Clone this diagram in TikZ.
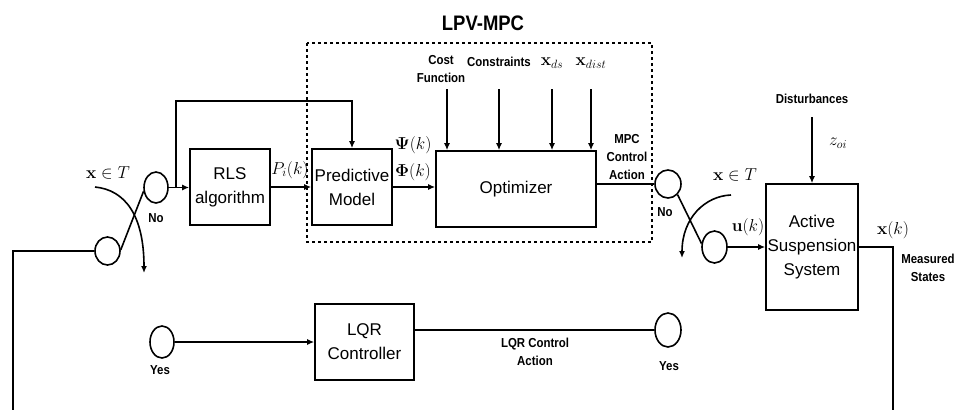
\documentclass[tikz,border=0pt]{standalone}
\usepackage[no-math]{fontspec}
\setmainfont{Liberation Sans}
\newfontfamily\condbold[FakeStretch=0.88]{Liberation Sans Bold}
\usetikzlibrary{shapes.geometric,arrows.meta,calc}
\tikzset{
  blk/.style={draw, align=center, inner sep=0pt, font=\fontsize{17}{24}\selectfont},
  sw/.style={draw, ellipse, inner sep=0pt},
  lbl/.style={align=center, inner sep=0pt, font=\condbold\fontsize{13}{18}\selectfont},
  mth/.style={inner sep=0pt, font=\fontsize{18}{21}\selectfont},
  arr/.style={-{Latex[length=7pt,width=6pt]}},
}
\begin{document}
\begin{tikzpicture}[x=1pt,y=-1pt,line width=1.6pt]
\useasboundingbox (0,0) rectangle (960,410);

% LPV-MPC frame and title
\draw[line width=1.3pt, dash pattern=on 3pt off 3pt] (307,43) rectangle (652,242);
\node[inner sep=0pt, font=\condbold\fontsize{21}{24}\selectfont] (title) at (483,23) {LPV-MPC};

% blocks
\node[blk, minimum width=80pt, minimum height=76pt] (rls) at (230,187) {RLS\\algorithm};
\node[blk, minimum width=80pt, minimum height=76pt] (pm) at (352,187) {Predictive\\Model};
\node[blk, minimum width=160pt, minimum height=76pt] (opt) at (516,189) {Optimizer};
\node[blk, minimum width=92pt, minimum height=126pt] (ass) at (812,247) {Active\\Suspension\\System};
\node[blk, minimum width=99pt, minimum height=76pt] (lqr) at (364.5,342) {LQR\\Controller};

% switch contacts
\node[sw, minimum width=24pt, minimum height=31pt] (c1) at (156,187.5) {};
\node[sw, minimum width=25pt, minimum height=28pt] (c2) at (107.5,251) {};
\node[sw, minimum width=26pt, minimum height=28pt] (c3) at (668,184) {};
\node[sw, minimum width=25pt, minimum height=32pt] (c4) at (714.5,247) {};
\node[sw, minimum width=24pt, minimum height=32pt] (y1) at (162,342) {};
\node[sw, minimum width=26pt, minimum height=34pt] (y2) at (668,330) {};

% helper points
\coordinate (br) at (176,187.5);
\coordinate (top) at (0,101);
\coordinate (bl) at (13,410);
\coordinate (brr) at (893,410);
\coordinate (a1) at (95,187);
\coordinate (a2) at (144,273);
\coordinate (b1) at (731,195);
\coordinate (b2) at (682,258);
\coordinate (i1) at (447,89);
\coordinate (i2) at (499,89);
\coordinate (i3) at (552,89);
\coordinate (i4) at (591,89);
\coordinate (dist) at (812,117);

% scheduling path
\draw[arr] (c1.east) -- (rls.west |- c1.east);
\draw[arr] (br) -- (br |- top) -| (pm.north);
\draw[arr] (rls.east) -- (pm.west);
\draw[arr] (pm.east) -- (opt.west |- pm.east);
\draw[arr] (i1) -- (i1 |- opt.north);
\draw[arr] (i2) -- (i2 |- opt.north);
\draw[arr] (i3) -- (i3 |- opt.north);
\draw[arr] (i4) -- (i4 |- opt.north);
\draw (opt.east |- c3.west) -- (c3.west);

% left switch
\draw (c2.5) -- (c1.197);
\draw[arr] (a1) .. controls (125,190) and (144,215) .. (a2);
\draw (c2.west) -| (bl);

% right switch
\draw (c3.-48) -- (c4.165);
\draw[arr] (b1) .. controls (705,196) and (682,218) .. (b2);
\draw[arr] (c4.east) -- (ass.west |- c4.east);

% plant
\draw[arr] (dist) -- (ass.north);
\draw (ass.east) -| (brr);

% LQR path
\draw[arr] (y1.east) -- (lqr.west |- y1.east);
\draw (lqr.east |- y2.west) -- (y2.west);

% math labels
\node[mth] (l1) at (108,173) {$\mathbf{x}\in T$};
\node[mth] (l2) at (735,175) {$\mathbf{x}\in T$};
\node[mth] (l3) at (290,170) {$P_i(k)$};
\node[mth] (l4) at (413,145) {$\mathbf{\Psi}(k)$};
\node[mth] (l5) at (413,172) {$\mathbf{\Phi}(k)$};
\node[mth] (l6) at (552,63) {$\mathbf{x}_{ds}$};
\node[mth] (l7) at (591,63) {$\mathbf{x}_{dist}$};
\node[mth] (l8) at (838,143) {$z_{oi}$};
\node[mth] (l9) at (748,227) {$\mathbf{u}(k)$};
\node[mth] (l10) at (893,230) {$\mathbf{x}(k)$};

% text labels
\node[lbl] (t1) at (441,69) {Cost\\Function};
\node[lbl] (t2) at (499,62) {Constraints};
\node[lbl] (t3) at (627,157) {MPC\\Control\\Action};
\node[lbl] (t4) at (812,99) {Disturbances};
\node[lbl] (t5) at (928,268) {Measured\\States};
\node[lbl] (t6) at (156,218) {No};
\node[lbl] (t7) at (665,212) {No};
\node[lbl] (t8) at (160,370) {Yes};
\node[lbl] (t9) at (669,366) {Yes};
\node[lbl] (t10) at (535,352) {LQR Control\\Action};
\end{tikzpicture}
\end{document}
